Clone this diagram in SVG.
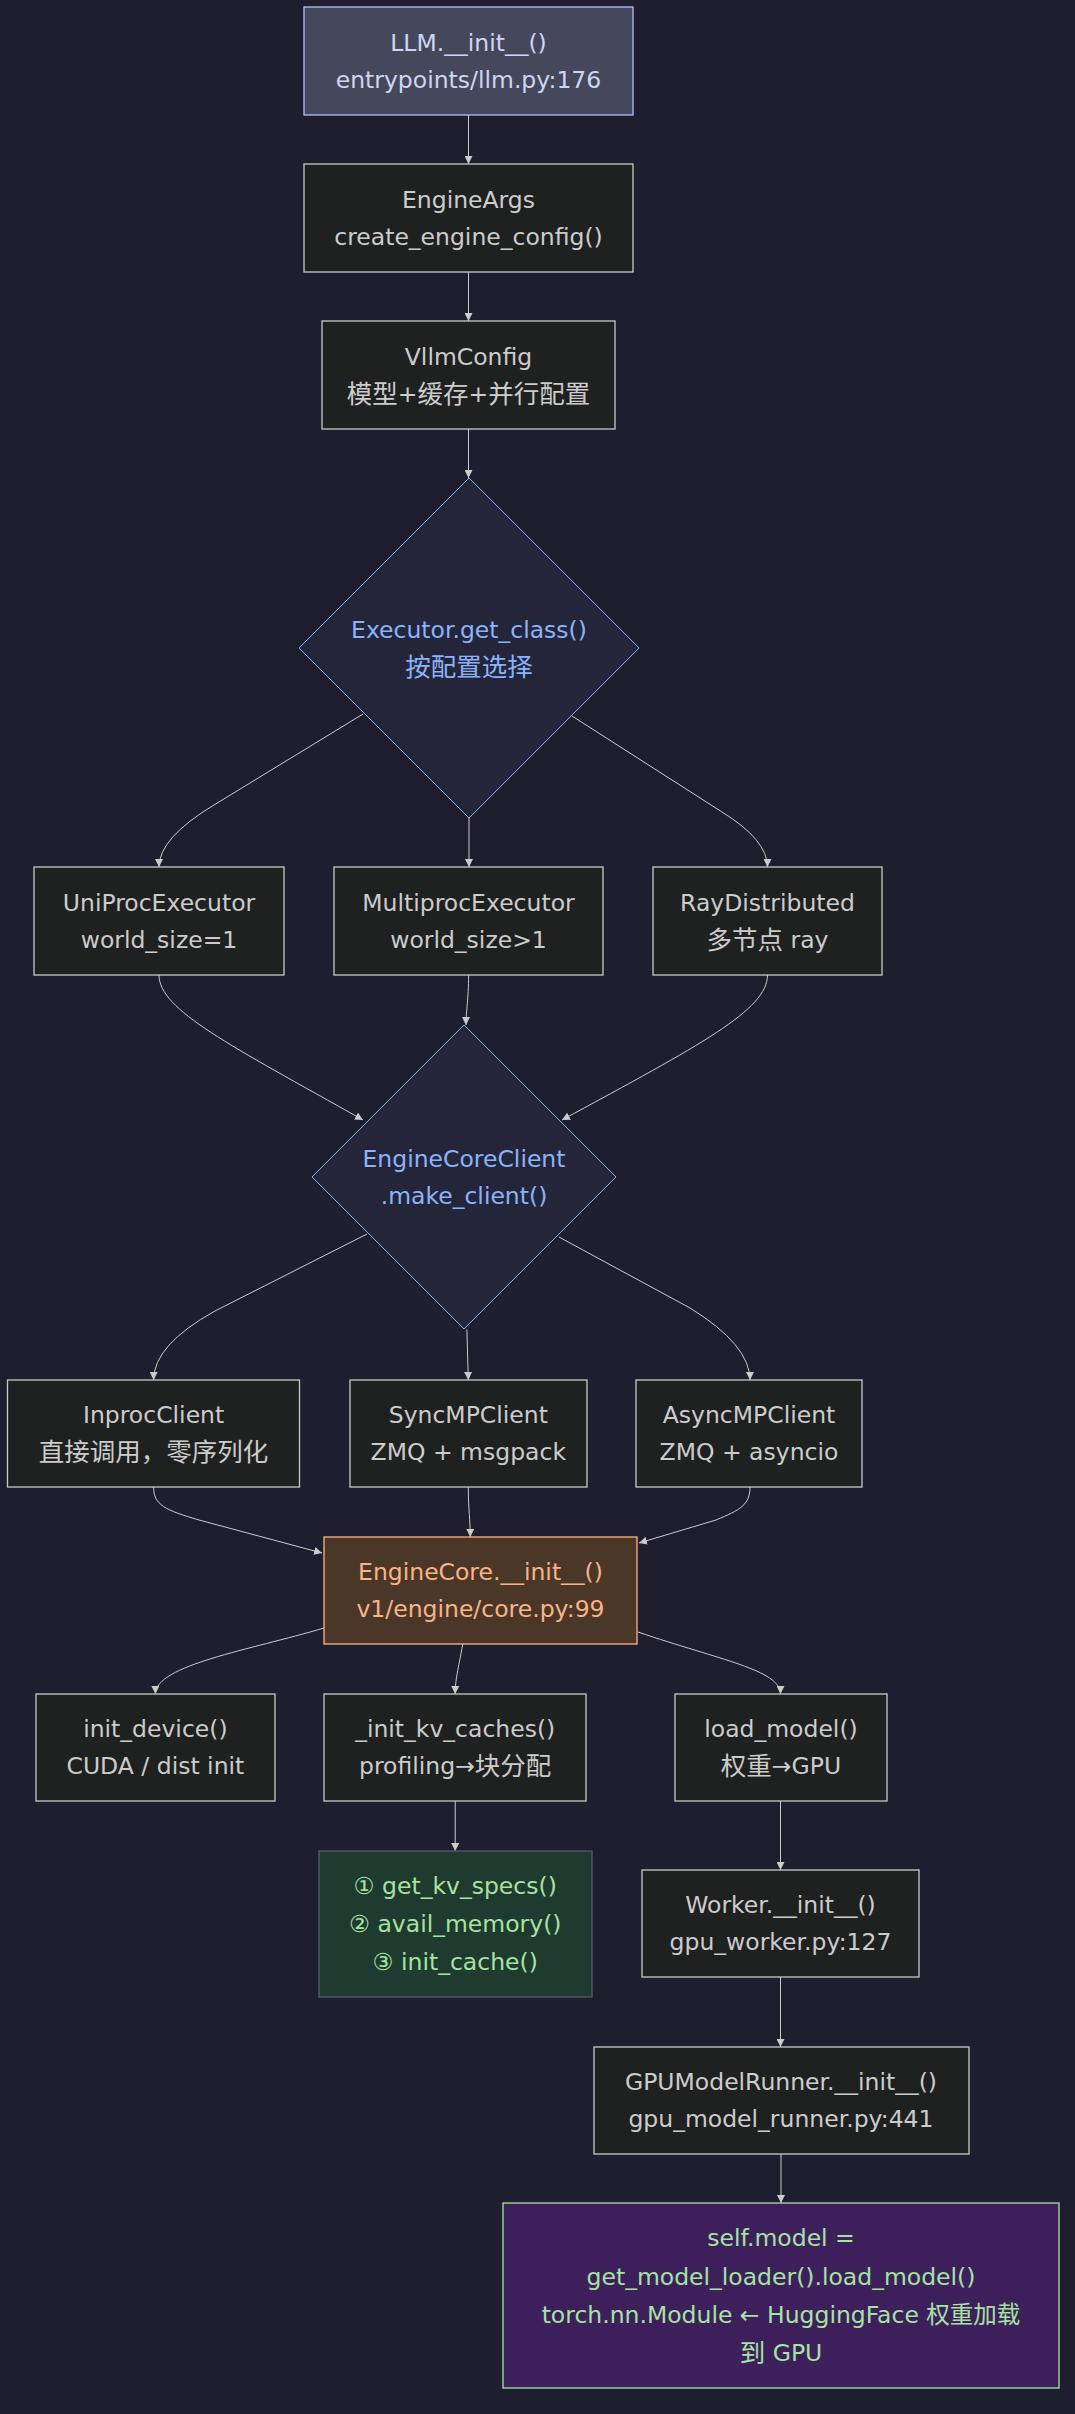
<svg xmlns="http://www.w3.org/2000/svg" width="1075" height="2414" viewBox="0 0 1075 2414">
<style>
text{font-family:"DejaVu Sans","Noto Sans CJK SC",sans-serif;font-size:23.5px;text-anchor:middle;dominant-baseline:central}
.cjk{font-size:25.5px}
.n rect{fill:#1f2020;stroke:#c8c8c8;stroke-width:1.3}
.n text{fill:#cccccc}
.d polygon{fill:#25253a;stroke:#89b4fa;stroke-width:1}
.d text{fill:#89b4fa}
.e path{fill:none;stroke:#cccccc;stroke-width:1;marker-end:url(#ah)}
</style>
<defs>
<marker id="ah" markerUnits="userSpaceOnUse" markerWidth="8" markerHeight="8" refX="8" refY="4" orient="auto">
<path d="M0,0 L8,4 L0,8 z" fill="#cccccc"/>
</marker>
</defs>
<rect x="0" y="0" width="1075" height="2414" fill="#1e1e2e"/>

<g id="connectors" class="e">
<path d="M468.5,115 L468.5,164"/>
<path d="M468.5,272 L468.5,321"/>
<path d="M468.5,429 L468.5,478"/>
<path d="M363,714 L214,805 Q159,838 159,867"/>
<path d="M469,818 L469,867"/>
<path d="M572,716 L722,812 Q767.5,840 767.5,867"/>
<path d="M159,975 C159,1010 230,1045 363,1120"/>
<path d="M468.6,975 C468.6,1000 466,1010 466,1025"/>
<path d="M767.5,975 C767.5,1010 700,1045 562,1120"/>
<path d="M367,1234 L215,1311 Q153.6,1345 153.6,1380"/>
<path d="M466.9,1329.5 L468.3,1380"/>
<path d="M559,1237 L690,1308 Q750,1345 750,1380"/>
<path d="M153.6,1487 C153.6,1505 165,1510 199,1520 L322,1553"/>
<path d="M468.3,1487 C468.3,1510 470.3,1520 470.3,1537"/>
<path d="M750,1487 C750,1505 740,1510 716,1520 L639,1543"/>
<path d="M324,1628 C250,1650 155.4,1665 155.4,1694"/>
<path d="M462.8,1644 C458,1670 455.2,1680 455.2,1694"/>
<path d="M638,1632 C720,1660 780.5,1670 780.5,1694"/>
<path d="M455.2,1801 L455.2,1851"/>
<path d="M780.5,1801 L780.5,1870"/>
<path d="M780.5,1977 L780.5,2047"/>
<path d="M781,2154 L781,2203"/>
</g>

<g id="llm_init">
<rect x="304" y="7" width="329" height="108" fill="#45475a" stroke="#b4befe" stroke-width="1.3"/>
<text x="468.5" y="43" fill="#cdd6f4">LLM.__init__()</text>
<text x="468.5" y="80" fill="#cdd6f4">entrypoints/llm.py:176</text>
</g>

<g id="engine_args" class="n">
<rect x="304" y="164" width="329" height="108"/>
<text x="468.5" y="199.5">EngineArgs</text>
<text x="468.5" y="236.5">create_engine_config()</text>
</g>

<g id="vllm_config" class="n">
<rect x="322" y="321" width="293" height="108"/>
<text x="468.5" y="356.5">VllmConfig</text>
<text x="468.5" y="393.5"><tspan class="cjk">模型</tspan>+<tspan class="cjk">缓存</tspan>+<tspan class="cjk">并行配置</tspan></text>
</g>

<g id="executor_get_class" class="d">
<polygon points="469,478 639,648 469,818 299,648"/>
<text x="469" y="630">Executor.get_class()</text>
<text x="469" y="667" class="cjk">按配置选择</text>
</g>

<g id="uniproc" class="n">
<rect x="34" y="867" width="250" height="108"/>
<text x="159" y="902.5">UniProcExecutor</text>
<text x="159" y="939.5">world_size=1</text>
</g>

<g id="multiproc" class="n">
<rect x="334" y="867" width="269" height="108"/>
<text x="468.5" y="902.5">MultiprocExecutor</text>
<text x="468.5" y="939.5">world_size&gt;1</text>
</g>

<g id="ray" class="n">
<rect x="653" y="867" width="229" height="108"/>
<text x="767.5" y="902.5">RayDistributed</text>
<text x="767.5" y="939.5"><tspan class="cjk">多节点</tspan> ray</text>
</g>

<g id="make_client" class="d">
<polygon points="464,1025 616,1177 464,1329 312,1177"/>
<text x="464" y="1159">EngineCoreClient</text>
<text x="464" y="1196">.make_client()</text>
</g>

<g id="inproc" class="n">
<rect x="7.5" y="1380" width="292" height="107"/>
<text x="153.6" y="1415">InprocClient</text>
<text x="153.6" y="1452" class="cjk">直接调用，零序列化</text>
</g>

<g id="syncmp" class="n">
<rect x="350" y="1380" width="237" height="107"/>
<text x="468.3" y="1415">SyncMPClient</text>
<text x="468.3" y="1452">ZMQ + msgpack</text>
</g>

<g id="asyncmp" class="n">
<rect x="636" y="1380" width="226" height="107"/>
<text x="749" y="1415">AsyncMPClient</text>
<text x="749" y="1452">ZMQ + asyncio</text>
</g>

<g id="engine_core">
<rect x="324" y="1537" width="313" height="107" fill="#4a3728" stroke="#fab387" stroke-width="1.3"/>
<text x="480.5" y="1572" fill="#fab387">EngineCore.__init__()</text>
<text x="480.5" y="1609" fill="#fab387">v1/engine/core.py:99</text>
</g>

<g id="init_device" class="n">
<rect x="36" y="1694" width="239" height="107"/>
<text x="155.4" y="1729">init_device()</text>
<text x="155.4" y="1766">CUDA / dist init</text>
</g>

<g id="init_kv_caches" class="n">
<rect x="324" y="1694" width="262" height="107"/>
<text x="455.2" y="1729">_init_kv_caches()</text>
<text x="455.2" y="1766">profiling→<tspan class="cjk">块分配</tspan></text>
</g>

<g id="load_model" class="n">
<rect x="675" y="1694" width="212" height="107"/>
<text x="781" y="1729">load_model()</text>
<text x="781" y="1766"><tspan class="cjk">权重</tspan>→GPU</text>
</g>

<g id="kv_steps">
<rect x="319" y="1851" width="273" height="146" fill="#1f3a2e" stroke="#585b70" stroke-width="1.3"/>
<text x="455.2" y="1886" fill="#a6e3a1">① get_kv_specs()</text>
<text x="455.2" y="1924" fill="#a6e3a1">② avail_memory()</text>
<text x="455.2" y="1962" fill="#a6e3a1">③ init_cache()</text>
</g>

<g id="worker_init" class="n">
<rect x="642" y="1870" width="277" height="107"/>
<text x="780.5" y="1905">Worker.__init__()</text>
<text x="780.5" y="1942">gpu_worker.py:127</text>
</g>

<g id="gpu_model_runner" class="n">
<rect x="594" y="2047" width="375" height="107"/>
<text x="781" y="2082">GPUModelRunner.__init__()</text>
<text x="781" y="2119">gpu_model_runner.py:441</text>
</g>

<g id="self_model">
<rect x="503" y="2203" width="556" height="185" fill="#3d1f5c" stroke="#a6e3a1" stroke-width="1.3"/>
<text x="781" y="2238" fill="#a6e3a1">self.model =</text>
<text x="781" y="2276.5" fill="#a6e3a1">get_model_loader().load_model()</text>
<text x="781" y="2315" fill="#a6e3a1">torch.nn.Module ← HuggingFace 权重加载</text>
<text x="781" y="2353" fill="#a6e3a1"><tspan class="cjk">到</tspan> GPU</text>
</g>
</svg>
